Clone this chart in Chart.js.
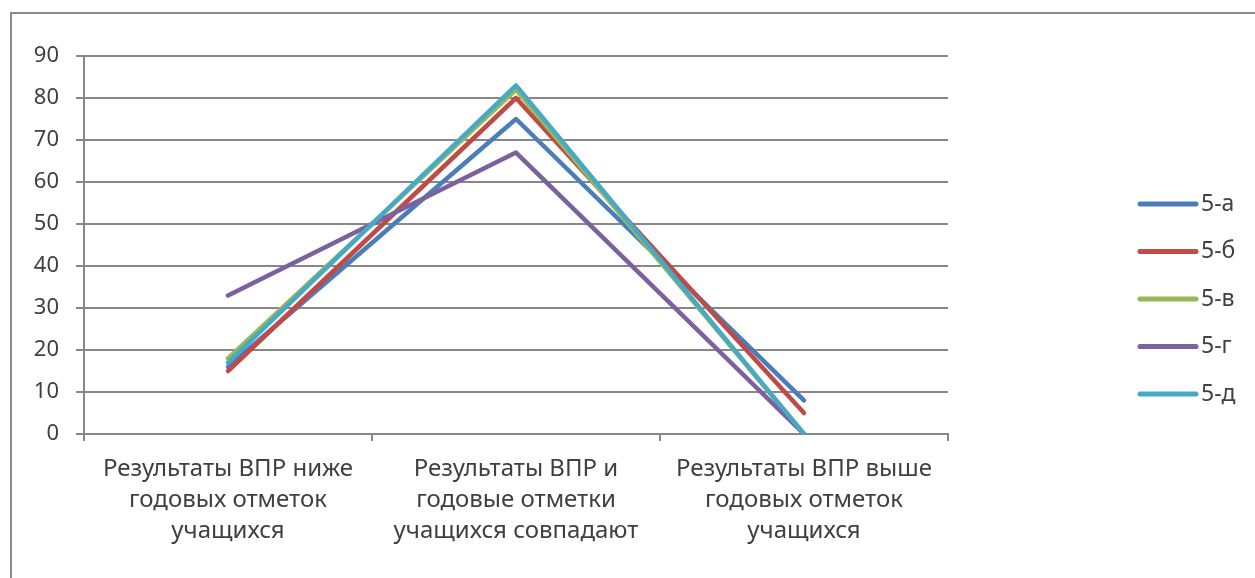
<!DOCTYPE html>
<html>
<head>
<meta charset="utf-8">
<script src="https://cdn.jsdelivr.net/npm/chart.js@4/dist/chart.umd.min.js"></script>
<style>
  html, body { margin: 0; padding: 0; background: #fff; }
  #wrap { width: 1255px; height: 578px; }
</style>
</head>
<body>
<div id="wrap"><canvas id="chart" width="1255" height="578"></canvas></div>
<script>
const categories = [
    ["Результаты ВПР ниже", "годовых отметок", "учащихся"],
    ["Результаты ВПР и", "годовые отметки", "учащихся совпадают"],
    ["Результаты ВПР выше", "годовых отметок", "учащихся"]
]
const seriesNames = ["5-а", "5-б", "5-в", "5-г", "5-д"]
const classA = [16, 75, 8]
const classB = [15, 80, 5]
const classV = [18, 82, 0]
const classG = [33, 67, 0]
const classD = [17, 83, 0]
const seriesColors = ["#4a7ebb", "#be4b48", "#98b954", "#7d60a0", "#46aac5"]
const yTicks = [0, 10, 20, 30, 40, 50, 60, 70, 80, 90]

const textColor = "#404040"
const lineGray = "#878787"
const fontFamily = "'Noto Sans', 'DejaVu Sans', sans-serif"

const allValues = [classA, classB, classV, classG, classD]

// outer frame of the excel chart (only top and left edge are visible)
const framePlugin = {
    id: "frame",
    beforeDraw(chart) {
        const ctx = chart.ctx
        ctx.save()
        ctx.fillStyle = "#fff"
        ctx.fillRect(0, 0, chart.width, chart.height)
        ctx.strokeStyle = "#8a8a8a"
        ctx.lineWidth = 2
        ctx.beginPath()
        ctx.moveTo(chart.width, 13)
        ctx.lineTo(11, 13)
        ctx.lineTo(11, chart.height)
        ctx.stroke()
        ctx.restore()
    }
}

// legend drawn like excel: short thick line + label
const legendPlugin = {
    id: "xlLegend",
    afterDraw(chart) {
        const ctx = chart.ctx
        ctx.save()
        chart.data.datasets.forEach((ds, i) => {
            const y = 204 + i * 47.5
            ctx.strokeStyle = ds.borderColor
            ctx.lineWidth = 5
            ctx.lineCap = "round"
            ctx.beginPath()
            ctx.moveTo(1140, y)
            ctx.lineTo(1196, y)
            ctx.stroke()
            ctx.fillStyle = textColor
            ctx.font = "23px " + fontFamily
            ctx.textBaseline = "middle"
            ctx.textAlign = "left"
            ctx.fillText(ds.label, 1201, y)
        })
        ctx.restore()
    }
}

const datasets = seriesNames.map((name, i) => ({
    label: name,
    data: allValues[i],
    borderColor: seriesColors[i],
    backgroundColor: seriesColors[i],
    borderWidth: 4.5,
    borderCapStyle: "round",
    borderJoinStyle: "round",
    pointRadius: 0,
    pointHoverRadius: 0,
    tension: 0,
    order: seriesNames.length - i
}))

new Chart(document.getElementById("chart").getContext("2d"), {
    type: "line",
    data: {
        labels: categories,
        datasets: datasets
    },
    options: {
        responsive: false,
        animation: false,
        devicePixelRatio: 1,
        layout: {
            padding: { top: 56, right: 307, bottom: 0, left: 0 }
        },
        plugins: {
            legend: { display: false },
            tooltip: { enabled: false }
        },
        scales: {
            x: {
                offset: true,
                grid: {
                    offset: true,
                    drawOnChartArea: false,
                    drawTicks: true,
                    tickLength: 7,
                    color: lineGray,
                    lineWidth: 2
                },
                border: { color: lineGray, width: 2 },
                ticks: {
                    color: textColor,
                    font: { family: fontFamily, size: 24, lineHeight: 1.28 },
                    padding: 13,
                    maxRotation: 0,
                    autoSkip: false
                },
                afterFit(scale) { scale.height = 144 }
            },
            y: {
                min: 0,
                max: 90,
                afterBuildTicks(scale) {
                    scale.ticks = yTicks.map(v => ({ value: v }))
                },
                grid: {
                    color: lineGray,
                    lineWidth: 2,
                    tickLength: 8
                },
                border: { color: lineGray, width: 2 },
                ticks: {
                    color: textColor,
                    font: { family: fontFamily, size: 22 },
                    padding: 17
                },
                afterFit(scale) { scale.width = 84 }
            }
        }
    },
    plugins: [framePlugin, legendPlugin]
})
</script>
</body>
</html>
